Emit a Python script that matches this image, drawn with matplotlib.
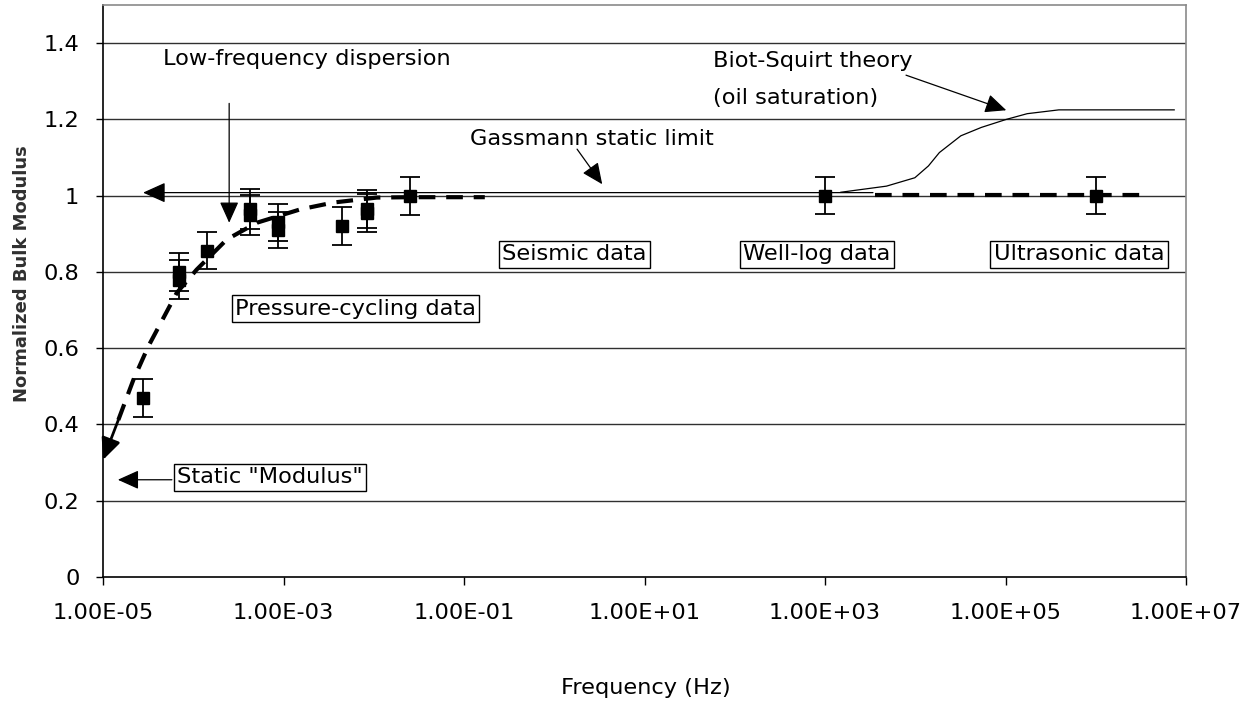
import matplotlib
matplotlib.use("Agg")
import matplotlib.pyplot as plt
from matplotlib.ticker import FixedLocator, FuncFormatter

plt.rcParams['font.family'] = ['DejaVu Sans']

# measured points: frequency (Hz), normalized modulus, error
freq = [2.8e-5, 7e-5, 7e-5, 1.43e-4, 4.3e-4, 4.3e-4, 8.7e-4, 8.7e-4,
        4.5e-3, 8.4e-3, 8.4e-3, 2.5e-2, 1e3, 1e6]
modulus = [0.47, 0.80, 0.78, 0.856, 0.965, 0.95, 0.93, 0.91,
           0.92, 0.965, 0.955, 1.0, 1.0, 1.0]
err = [0.05, 0.05, 0.05, 0.048, 0.052, 0.053, 0.048, 0.048,
       0.05, 0.05, 0.05, 0.05, 0.048, 0.048]

# dispersion trend (dashed), low-frequency part and high-frequency part
trend_f = [1.0e-5, 1.48e-5, 2.17e-5, 3.18e-5, 6.56e-5, 1.09e-4, 2.35e-4,
           5.06e-4, 1.53e-3, 3.57e-3, 1.08e-2, 2.54e-2, 0.17]
trend_k = [0.307, 0.412, 0.517, 0.605, 0.745, 0.806, 0.885,
           0.929, 0.964, 0.982, 0.995, 0.996, 0.996]
trend_hi_f = [3.6e3, 3.4e6]
trend_hi_k = [1.003, 1.003]

# Biot-Squirt theory for oil saturation
biot_f = [1500, 4800, 9900, 1.4e4, 1.85e4, 3.2e4, 5.4e4, 1.02e5, 1.74e5, 3.9e5, 7.4e6]
biot_k = [1.009, 1.025, 1.047, 1.078, 1.113, 1.157, 1.179, 1.200, 1.215, 1.225, 1.225]

gassmann = 1.008

xticks = [1e-5, 1e-3, 1e-1, 1e1, 1e3, 1e5, 1e7]
yticks = [0, 0.2, 0.4, 0.6, 0.8, 1.0, 1.2, 1.4]

FS = 16.2

fig = plt.figure(figsize=(12.52, 7.05), dpi=100)
ax = fig.add_axes([103 / 1252, 1 - 577 / 705, (1186 - 103) / 1252, (577 - 5) / 705])
ax.set_xscale('log')
ax.set_xlim(1e-5, 1e7)
ax.set_ylim(0, 1.5)

for y in yticks[1:]:
    ax.axhline(y, color='#303030', lw=1.0, zorder=0)

ax.xaxis.set_major_locator(FixedLocator(xticks))
ax.xaxis.set_minor_locator(FixedLocator([]))
ax.xaxis.set_major_formatter(FuncFormatter(lambda v, p: f"{v:.2E}"))
ax.yaxis.set_major_locator(FixedLocator(yticks))
ax.yaxis.set_major_formatter(FuncFormatter(lambda v, p: f"{v:g}"))
ax.tick_params(axis='x', direction='out', length=6, width=1, pad=13, labelsize=FS)
ax.tick_params(axis='y', direction='out', length=5, width=1, pad=12, labelsize=FS)
for s in ['top', 'right']:
    ax.spines[s].set_color('#8a8a8a')
    ax.spines[s].set_linewidth(1.2)
for s in ['left', 'bottom']:
    ax.spines[s].set_color('black')
    ax.spines[s].set_linewidth(1.2)

# Gassmann static limit with arrow to the left
ax.annotate('', xy=(2.78e-5, gassmann), xytext=(3.4e3, gassmann),
            arrowprops=dict(arrowstyle='-|>,head_length=1.0,head_width=0.45',
                            mutation_scale=14, color='black', lw=0.9,
                            shrinkA=0, shrinkB=0))

ax.plot(biot_f, biot_k, color='black', lw=0.9)

ax.plot(trend_f[1:], trend_k[1:], color='black', lw=3, ls=(0, (4, 2.6)))
ax.plot(trend_hi_f, trend_hi_k, color='black', lw=3, ls=(0, (4, 2.6)))
ax.annotate('', xy=(trend_f[0], trend_k[0]), xytext=(trend_f[1], trend_k[1]),
            arrowprops=dict(arrowstyle='-|>,head_length=1.0,head_width=0.45',
                            mutation_scale=13, color='black', lw=2,
                            shrinkA=0, shrinkB=0))

ax.errorbar(freq, modulus, yerr=err, fmt='s', color='black', ms=8.5,
            capsize=7, elinewidth=1.3, capthick=1.3, zorder=5)

box = dict(boxstyle='square,pad=0.15', fc='white', ec='black', lw=1)
ax.text(0.263, 0.846, 'Seismic data', fontsize=FS, va='center', bbox=box)
ax.text(124, 0.846, 'Well-log data', fontsize=FS, va='center', bbox=box)
ax.text(7.4e4, 0.846, 'Ultrasonic data', fontsize=FS, va='center', bbox=box)
ax.text(2.9e-4, 0.704, 'Pressure-cycling data', fontsize=FS, va='center', bbox=box)
ax.text(6.6e-5, 0.261, 'Static "Modulus"', fontsize=FS, va='center', bbox=box)

arrow = dict(arrowstyle='-|>,head_length=1.0,head_width=0.45', mutation_scale=13,
             color='black', lw=0.9, shrinkA=0, shrinkB=0)
ax.annotate('', xy=(1.46e-5, 0.255), xytext=(5.8e-5, 0.255), arrowprops=arrow)
ax.text(4.63e-5, 1.358, 'Low-frequency dispersion', fontsize=FS, va='center')
ax.annotate('', xy=(2.5e-4, 0.929), xytext=(2.5e-4, 1.242), arrowprops=arrow)
ax.text(0.117, 1.148, 'Gassmann static limit', fontsize=FS, va='center')
ax.annotate('', xy=(3.4, 1.03), xytext=(1.79, 1.122), arrowprops=arrow)
ax.text(58, 1.352, 'Biot-Squirt theory', fontsize=FS, va='center')
ax.text(58, 1.255, '(oil saturation)', fontsize=FS, va='center')
ax.annotate('', xy=(1.02e5, 1.224), xytext=(7.9e3, 1.316), arrowprops=arrow)

fig.text(646 / 1252, 1 - 688 / 705, 'Frequency (Hz)', fontsize=FS,
         ha='center', va='center')
fig.text(22 / 1252, 1 - 274 / 705, 'Normalized Bulk Modulus', fontsize=13,
         fontweight='bold', color='#303030', rotation=90,
         ha='center', va='center')

fig.savefig('out.png', dpi=100)
